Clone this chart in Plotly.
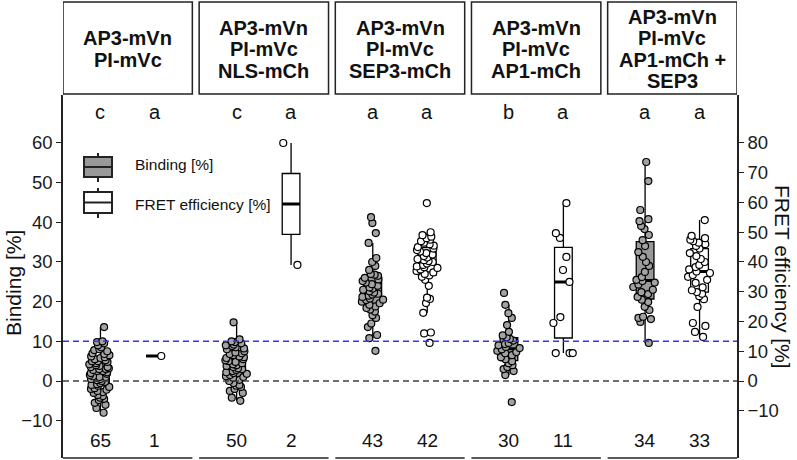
import numpy as np
import plotly.graph_objects as go

# ---------------- data ----------------
header_lines = [
    ["AP3-mVn", "PI-mVc"],
    ["AP3-mVn", "PI-mVc", "NLS-mCh"],
    ["AP3-mVn", "PI-mVc", "SEP3-mCh"],
    ["AP3-mVn", "PI-mVc", "AP1-mCh"],
    ["AP3-mVn", "PI-mVc", "AP1-mCh +", "SEP3"],
]
binding_letters = ["c", "c", "a", "b", "a"]
fret_letters = ["a", "a", "a", "a", "a"]

binding_1 = [-8.0, -6.8, -6.0, -5.5, -4.8, -4.5, -4.2, -3.8, -3.5, -3.0,
             -2.8, -2.5, -2.0, -1.8, -1.5, -1.2, -1.0, -0.8, -0.5, -0.2,
             0.0, 0.2, 0.5, 0.5, 0.8, 1.0, 1.2, 1.5, 1.8, 2.0,
             2.2, 2.5, 2.5, 2.8, 3.0, 3.0, 3.2, 3.5, 3.8, 4.0,
             4.2, 4.5, 4.8, 5.0, 5.2, 5.5, 5.8, 6.0, 6.2, 6.5,
             6.8, 7.0, 7.5, 7.8, 8.0, 8.5, 9.0, 9.5, 9.8, 10.0,
             13.6, 1.0, 3.5, -2.2, 5.0]
fret_1 = [8.4]

binding_2 = [-5.0, -4.2, -3.0, -2.5, -2.0, -1.5, -1.2, -1.0, -0.5, 0.0,
             0.3, 0.8, 1.0, 1.2, 1.5, 1.8, 2.0, 2.2, 2.5, 2.8,
             3.0, 3.2, 3.5, 3.8, 4.0, 4.2, 4.5, 4.8, 5.0, 5.2,
             5.5, 5.8, 6.0, 6.2, 6.5, 6.8, 7.0, 7.2, 7.5, 8.0,
             8.2, 8.5, 8.8, 9.0, 9.2, 9.5, 9.8, 10.0, 10.5, 14.8]
fret_2 = [39.0, 80.0]

binding_3 = [7.6, 10.8, 11.6, 13.6, 14.5, 15.9, 16.6, 17.5, 18.0, 18.4,
             18.8, 19.2, 19.6, 20.0, 20.4, 20.8, 21.2, 21.5, 21.8, 22.0,
             22.3, 22.6, 23.0, 23.3, 23.6, 24.0, 24.4, 24.8, 25.2, 25.6,
             26.0, 26.5, 26.8, 27.0, 28.0, 29.0, 30.0, 31.0, 34.8, 37.3,
             39.8, 41.3, 20.5]
fret_3 = [12.8, 16.0, 16.3, 22.9, 26.2, 27.6, 28.0, 32.0, 34.0, 35.0,
          35.5, 36.0, 36.5, 37.0, 37.5, 38.0, 38.5, 39.0, 39.5, 40.0,
          40.3, 40.6, 41.0, 41.5, 42.0, 42.5, 43.0, 43.5, 44.0, 44.5,
          45.0, 45.5, 46.0, 46.5, 47.0, 47.5, 48.0, 48.5, 49.0, 50.0,
          59.8, 38.2]

binding_4 = [-5.3, 1.5, 2.5, 3.0, 3.5, 4.0, 4.5, 5.0, 5.5, 6.0,
             6.5, 7.0, 7.3, 7.6, 8.0, 8.3, 8.6, 9.0, 9.3, 9.6,
             10.2, 10.6, 11.0, 11.5, 12.4, 14.1, 15.9, 17.1, 19.2, 22.2]
fret_4 = [59.8, 49.7, 48.1, 41.7, 37.3, 33.3, 21.5, 19.5, 9.4, 9.4, 9.4]

binding_5 = [9.6, 14.9, 15.6, 15.9, 16.2, 17.9, 18.7, 19.9, 20.5, 21.2,
             21.9, 22.4, 23.0, 23.7, 24.3, 24.8, 25.2, 25.5, 26.2, 27.5,
             29.0, 30.0, 31.3, 32.5, 34.0, 35.5, 36.8, 38.3, 39.1, 40.3,
             40.8, 43.1, 50.4, 55.2]
fret_5 = [14.8, 16.5, 18.5, 19.5, 24.9, 27.5, 28.5, 29.3, 29.9, 30.5,
          31.5, 33.0, 34.0, 35.0, 35.6, 36.3, 36.8, 37.5, 38.3, 39.0,
          40.0, 41.0, 42.0, 43.0, 44.5, 45.4, 46.0, 46.5, 47.0, 47.5,
          48.0, 48.8, 54.1]

binding = [binding_1, binding_2, binding_3, binding_4, binding_5]
fret = [fret_1, fret_2, fret_3, fret_4, fret_5]

left_ticks = [-10, 0, 10, 20, 30, 40, 50, 60]
right_ticks = [-10, 0, 10, 20, 30, 40, 50, 60, 70, 80]
threshold = 10

# ---------------- styling / layout helpers ----------------
FONT = "Liberation Sans, Arial, sans-serif"
W, H = 797, 460
ML, MR, MT, MB = 63, 60, 95, 2
PW, PH = W - ML - MR, H - MT - MB

def xp(px):
    return (px - ML) / PW

def yp(py):
    return (H - MB - py) / PH

GROUP_STEP = 5.0
BOX_SPAN = 4.75
GREY_BOX = "#999999"
GREY_PT = "#a3a3a3"


def box_stats(vals):
    a = np.asarray(vals, dtype=float)
    q1, med, q3 = np.percentile(a, [25, 50, 75])
    iqr = q3 - q1
    lo = a[a >= q1 - 1.5 * iqr].min()
    hi = a[a <= q3 + 1.5 * iqr].max()
    return q1, med, q3, lo, hi


fig = go.Figure()


def add_box(pos, vals, axis, fill, ptfill):
    q1, med, q3, lo, hi = box_stats(vals)
    fig.add_trace(go.Box(
        x=[pos], q1=[q1], median=[med], q3=[q3], lowerfence=[lo], upperfence=[hi],
        orientation="v", width=0.65, boxpoints=False,
        fillcolor=fill, line=dict(color="black", width=1.3),
        whiskerwidth=0, yaxis=axis, hoverinfo="skip", showlegend=False))
    fig.add_trace(go.Box(
        x=[pos], q1=[med], median=[med], q3=[med], lowerfence=[med],
        upperfence=[med], orientation="v", width=0.65, boxpoints=False,
        fillcolor="rgba(0,0,0,0)", line=dict(color="black", width=3),
        whiskerwidth=0, yaxis=axis, hoverinfo="skip", showlegend=False))
    fig.add_trace(go.Box(
        x=[pos] * len(vals), y=vals, orientation="v", width=0.9,
        boxpoints="all", jitter=1, pointpos=0,
        fillcolor="rgba(0,0,0,0)", line=dict(color="rgba(0,0,0,0)", width=0),
        marker=dict(size=7, color=ptfill, line=dict(color="black", width=1.2)),
        whiskerwidth=0, yaxis=axis, hoverinfo="skip", showlegend=False))


annotations = []
shapes = []
for i in range(5):
    x0 = GROUP_STEP * i
    center = x0 + BOX_SPAN / 2
    pb, pf = center - 1.0, center + 1.0
    add_box(pb, binding[i], "y", GREY_BOX, GREY_PT)
    add_box(pf, fret[i], "y2", "white", "white")

    # header box
    shapes.append(dict(type="rect", xref="x", yref="paper", x0=x0, x1=x0 + BOX_SPAN,
                       y0=yp(94), y1=yp(2), line=dict(color="#222", width=1.5),
                       fillcolor="white", layer="above"))
    n = len(header_lines[i])
    for k, txt in enumerate(header_lines[i]):
        py = 49 + (k - (n - 1) / 2) * 21.5
        annotations.append(dict(text="<b>%s</b>" % txt, x=center, y=yp(py), xref="x",
                                yref="paper", showarrow=False, xanchor="center",
                                yanchor="middle", font=dict(size=20, color="#111", family=FONT)))
    # bottom segment
    shapes.append(dict(type="line", xref="x", yref="paper", x0=x0, x1=x0 + BOX_SPAN,
                       y0=0, y1=0, line=dict(color="#222", width=1.5)))
    # letters
    for pos, let in ((pb, binding_letters[i]), (pf, fret_letters[i])):
        annotations.append(dict(text=let, x=pos, y=yp(112), xref="x", yref="paper",
                                showarrow=False, xanchor="center", yanchor="middle",
                                font=dict(size=20, color="#111", family=FONT)))
    # counts
    for pos, vals in ((pb, binding[i]), (pf, fret[i])):
        annotations.append(dict(text=str(len(vals)), x=pos, y=yp(440), xref="x", yref="paper",
                                showarrow=False, xanchor="center", yanchor="middle",
                                font=dict(size=19, color="#111", family=FONT)))

# reference lines
shapes.append(dict(type="line", xref="paper", yref="y", x0=0, x1=1, y0=0, y1=0,
                   line=dict(color="#404040", width=1.5, dash="6px,4px")))
shapes.append(dict(type="line", xref="paper", yref="y", x0=0, x1=1, y0=threshold, y1=threshold,
                   line=dict(color="#3333ff", width=1.5, dash="6px,4px")))

# legend glyphs
for (top, bot, fill, label, ty) in ((157, 177, GREY_BOX, "Binding [%]", 164),
                                    (192, 213, "white", "FRET efficiency [%]", 204)):
    mid = (top + bot) / 2
    shapes.append(dict(type="rect", xref="paper", yref="paper", x0=xp(84), x1=xp(112),
                       y0=yp(bot), y1=yp(top), fillcolor=fill,
                       line=dict(color="#222", width=2)))
    shapes.append(dict(type="line", xref="paper", yref="paper", x0=xp(84), x1=xp(112),
                       y0=yp(mid), y1=yp(mid), line=dict(color="#222", width=2)))
    shapes.append(dict(type="line", xref="paper", yref="paper", x0=xp(98), x1=xp(98),
                       y0=yp(top), y1=yp(top - 4), line=dict(color="#222", width=2)))
    shapes.append(dict(type="line", xref="paper", yref="paper", x0=xp(98), x1=xp(98),
                       y0=yp(bot), y1=yp(bot + 5), line=dict(color="#222", width=2)))
    annotations.append(dict(text=label, x=xp(133), y=yp(ty), xref="paper", yref="paper",
                            showarrow=False, xanchor="left", yanchor="middle",
                            font=dict(size=15.5, color="#111", family=FONT)))

# axis titles
annotations.append(dict(text="Binding [%]", x=xp(13), y=yp(283), xref="paper", yref="paper",
                        showarrow=False, textangle=-90, xanchor="center", yanchor="middle",
                        font=dict(size=21, color="#111", family=FONT)))
annotations.append(dict(text="FRET efficiency [%]", x=xp(783), y=yp(277), xref="paper",
                        yref="paper", showarrow=False, textangle=90, xanchor="center",
                        yanchor="middle", font=dict(size=21, color="#111", family=FONT)))

# y ranges (right axis = 4/3 of left)
top_val = (381 - 95) / 3.967
bot_val = (381 - 458) / 3.967
axis_common = dict(ticks="outside", ticklen=5, tickwidth=1.3, tickcolor="#222",
                   showline=True, linecolor="#222", linewidth=1.5, showgrid=False,
                   zeroline=False, tickfont=dict(size=18.5, color="#1a1a1a", family=FONT))

fig.update_layout(
    width=W, height=H, autosize=False,
    margin=dict(l=ML, r=MR, t=MT, b=MB, pad=0),
    plot_bgcolor="white", paper_bgcolor="white",
    showlegend=False, boxmode="overlay",
    font=dict(family=FONT),
    xaxis=dict(range=[0, GROUP_STEP * 4 + BOX_SPAN], visible=False, fixedrange=True),
    yaxis=dict(range=[bot_val, top_val], tickvals=left_ticks, **axis_common),
    yaxis2=dict(range=[bot_val * 4 / 3, top_val * 4 / 3], tickvals=right_ticks,
                overlaying="y", side="right", **axis_common),
    shapes=shapes, annotations=annotations,
)

fig.write_html("out.html", config={"displayModeBar": False},
               post_script="document.body.style.margin='0';document.body.style.overflow='hidden';")
